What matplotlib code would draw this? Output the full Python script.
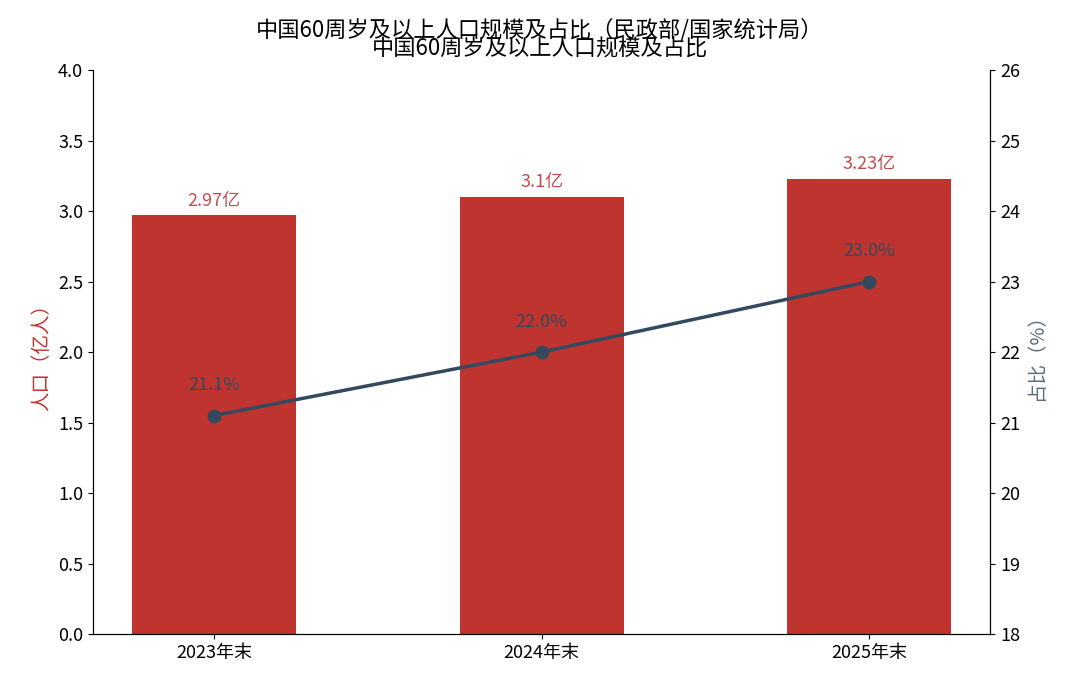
import matplotlib
matplotlib.use("Agg")
import matplotlib.pyplot as plt

plt.rcParams['font.family'] = ['Noto Sans CJK SC', 'DejaVu Sans']

years = ['2023年末', '2024年末', '2025年末']
population = [2.97, 3.1, 3.23]
pop_labels = ['2.97亿', '3.1亿', '3.23亿']
share = [21.1, 22.0, 23.0]

bar_color = '#C0342F'
line_color = '#34495E'

fig, ax = plt.subplots(figsize=(10.8, 6.87), dpi=100)
fig.subplots_adjust(left=0.086, right=0.917, top=0.898, bottom=0.077)

x = range(len(years))
ax.bar(x, population, width=0.5, color=bar_color)
for xi, v, lab in zip(x, population, pop_labels):
    ax.text(xi, v + 0.04, lab, ha='center', va='bottom', color='#C0504D', fontsize=13)
ax.set_xticks(list(x))
ax.set_xticklabels(years, fontsize=13)
ax.set_xlim(-0.37, 2.37)
ax.set_ylim(0, 4.0)
ax.set_yticks([i * 0.5 for i in range(9)])
ax.tick_params(axis='y', labelsize=13)
ax.set_ylabel('人口（亿人）', color=bar_color, fontsize=14)
ax.spines['top'].set_visible(False)

ax2 = ax.twinx()
ax2.plot(list(x), share, color=line_color, linewidth=2.5, marker='o', markersize=9)
for xi, v in zip(x, share):
    ax2.text(xi, v + 0.3, f'{v:.1f}%', ha='center', va='bottom', color=line_color, fontsize=13)
ax2.set_ylim(18, 26)
ax2.tick_params(axis='y', labelsize=13)
ax2.set_ylabel('占比（%）', color='#5D6D7E', fontsize=14)
ax2.spines['top'].set_visible(False)

fig.text(0.5, 0.957, '中国60周岁及以上人口规模及占比（民政部/国家统计局）',
         ha='center', va='center', fontsize=16)
fig.text(0.5, 0.928, '中国60周岁及以上人口规模及占比', ha='center', va='center', fontsize=16)

fig.savefig('out.png', dpi=100)
